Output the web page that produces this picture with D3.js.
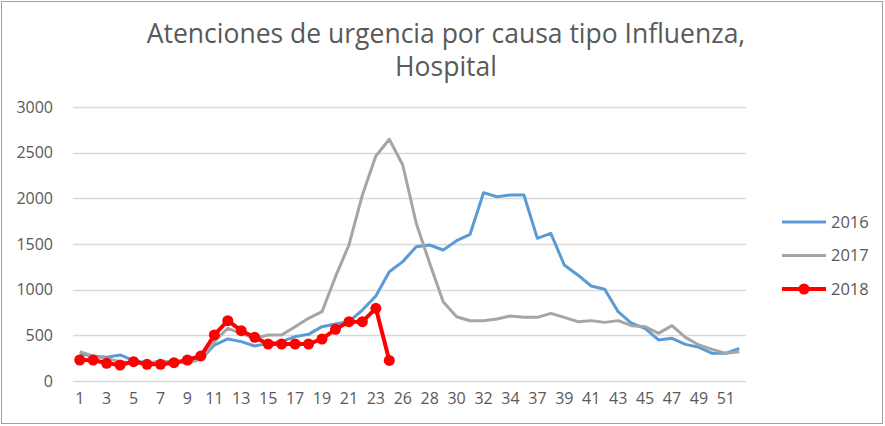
<!DOCTYPE html>
<html>
<head>
<meta charset="utf-8">
<script src="https://cdn.jsdelivr.net/npm/d3@7"></script>
<style>
    body { margin: 0; background: #fff; }
    svg { display: block; font-family: "Open Sans", sans-serif; }
</style>
</head>
<body>
<svg id="chart" width="885" height="426"></svg>
<script>

// Semanas epidemiologicas (25 y 36 no aparecen en el eje)
const weeks = [1, 2, 3, 4, 5, 6, 7, 8, 9, 10, 11, 12, 13, 14, 15, 16, 17, 18, 19, 20,
    21, 22, 23, 25, 26, 27, 28, 29, 30, 31, 32, 33, 34, 36, 37, 38, 39, 40, 41, 42,
    43, 44, 45, 46, 47, 48, 49, 50, 51, 52];

const values2016 = [296, 274, 259, 285, 223, 201, 212, 212, 212, 237, 394, 460, 431, 383, 412, 431,
    486, 511, 595, 624, 650, 777, 931, 1197, 1307, 1471, 1489, 1434, 1536, 1606, 2062, 2018,
    2037, 2037, 1562, 1617, 1270, 1161, 1040, 1004, 759, 632, 577, 449, 467, 401, 369, 303, 303, 358];

const values2017 = [321, 274, 245, 212, 201, 194, 212, 212, 194, 240, 431, 577, 522, 467, 504, 504,
    595, 686, 759, 1142, 1489, 2037, 2464, 2647, 2365, 1727, 1289, 868, 704, 660, 660, 679,
    712, 697, 697, 741, 697, 650, 661, 642, 661, 606, 595, 522, 606, 478, 394, 347, 303, 321];

const values2018 = [230, 230, 194, 175, 212, 183, 183, 201, 230, 274, 504, 660, 551, 478, 405, 405,
    405, 405, 460, 566, 650, 650, 796, 225];

const series = [
    { name: "2016", values: values2016, color: "#5b9bd5", width: 3, dots: false },
    { name: "2017", values: values2017, color: "#a5a5a5", width: 3, dots: false },
    { name: "2018", values: values2018, color: "#ff0000", width: 4, dots: true }
];

const yTicks = [0, 500, 1000, 1500, 2000, 2500, 3000];

const svg = d3.select("#chart");

// marco del grafico
svg.append("rect")
    .attr("x", 1.5).attr("y", 1.5)
    .attr("width", 881).attr("height", 422)
    .attr("fill", "#fff")
    .attr("stroke", "#a0a0a0")
    .attr("stroke-width", 1);

// titulo
const title = svg.append("text")
    .attr("text-anchor", "middle")
    .attr("fill", "#595959")
    .attr("font-size", 26.5);
title.append("tspan").attr("x", 446).attr("y", 43)
    .text("Atenciones de urgencia por causa tipo Influenza,");
title.append("tspan").attr("x", 446).attr("y", 76)
    .text("Hospital");

const plot = { left: 73, right: 746, top: 107, bottom: 381 };

const x = d3.scaleBand()
    .domain(d3.range(weeks.length))
    .range([plot.left, plot.right]);

const y = d3.scaleLinear()
    .domain([0, 3000])
    .range([plot.bottom, plot.top]);

const cx = i => x(i) + x.bandwidth() / 2;

// grilla
svg.append("g")
    .selectAll("line")
    .data(yTicks)
    .join("line")
    .attr("x1", plot.left).attr("x2", plot.right)
    .attr("y1", d => Math.round(y(d)) + 0.5)
    .attr("y2", d => Math.round(y(d)) + 0.5)
    .attr("stroke", "#d9d9d9")
    .attr("stroke-width", 1.3);

// eje y
const yAxis = svg.append("g")
    .attr("transform", `translate(${plot.left - 20},0)`)
    .call(d3.axisLeft(y).tickValues(yTicks).tickFormat(d3.format("d")).tickSize(0).tickPadding(0));
yAxis.select(".domain").remove();
yAxis.selectAll("text")
    .attr("fill", "#595959")
    .attr("font-size", 16)
    .attr("font-family", "Open Sans, sans-serif");

// eje x: una etiqueta por medio
const xAxis = svg.append("g")
    .attr("transform", `translate(0,${plot.bottom})`)
    .call(d3.axisBottom(x)
        .tickValues(d3.range(0, weeks.length, 2))
        .tickFormat(i => weeks[i])
        .tickSize(0)
        .tickPadding(12));
xAxis.select(".domain").remove();
xAxis.selectAll("text")
    .attr("fill", "#595959")
    .attr("font-size", 16)
    .attr("font-family", "Open Sans, sans-serif");

// lineas
const line = d3.line()
    .x((d, i) => cx(i))
    .y(d => y(d));

series.forEach(s => {
    svg.append("path")
        .datum(s.values)
        .attr("fill", "none")
        .attr("stroke", s.color)
        .attr("stroke-width", s.width)
        .attr("stroke-linejoin", "round")
        .attr("d", line);

    if (s.dots) {
        svg.append("g")
            .selectAll("circle")
            .data(s.values)
            .join("circle")
            .attr("cx", (d, i) => cx(i))
            .attr("cy", d => y(d))
            .attr("r", 5.5)
            .attr("fill", s.color);
    }
});

// leyenda
const legend = svg.append("g")
    .selectAll("g")
    .data(series)
    .join("g")
    .attr("transform", (d, i) => `translate(782,${222 + i * 33.5})`);

legend.append("line")
    .attr("x1", 0).attr("x2", 44)
    .attr("stroke", d => d.color)
    .attr("stroke-width", d => d.width);

legend.filter(d => d.dots)
    .append("circle")
    .attr("cx", 22).attr("r", 5.5)
    .attr("fill", d => d.color);

legend.append("text")
    .attr("x", 49)
    .attr("dy", "0.35em")
    .attr("fill", "#595959")
    .attr("font-size", 16.5)
    .text(d => d.name);

</script>
</body>
</html>
